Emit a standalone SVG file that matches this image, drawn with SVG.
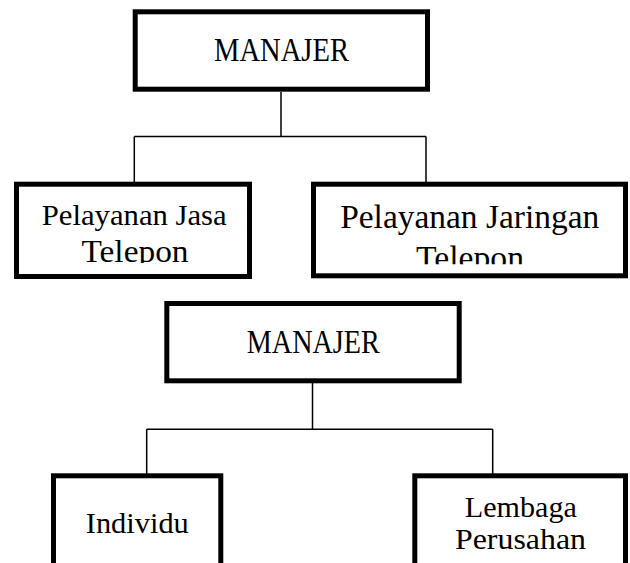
<svg xmlns="http://www.w3.org/2000/svg" width="630" height="563" viewBox="0 0 630 563">
  <style>
    .box { fill: #ffffff; stroke: #000000; stroke-width: 5; }
    .lbl { font-family: "Liberation Serif", "Times New Roman", serif; fill: #000000; text-anchor: middle; }
    .conn { fill: none; stroke: #000000; stroke-width: 1.5; }
  </style>
  <defs>
    <clipPath id="clipJasa"><rect x="19" y="186" width="228" height="77"/></clipPath>
    <clipPath id="clipJaringan"><rect x="316" y="186" width="306" height="78.3"/></clipPath>
  </defs>
  <rect x="0" y="0" width="630" height="563" fill="#ffffff"/>

  <g id="connectors">
    <path class="conn" d="M281,92 V136.5 M134.3,136.5 H426 M134.3,136.5 V182 M426,136.5 V182"/>
    <path class="conn" d="M312.5,383 V429.3 M146.7,429.3 H492.7 M146.7,429.3 V474 M492.7,429.3 V474"/>
  </g>

  <g id="manajer1">
    <rect class="box" x="135.2" y="11.8" width="292.3" height="77.4"/>
    <text class="lbl" x="281.5" y="61" font-size="33" textLength="135" lengthAdjust="spacingAndGlyphs">MANAJER</text>
  </g>

  <g id="jasa">
    <rect class="box" x="16.5" y="184.2" width="233" height="92.3"/>
    <g clip-path="url(#clipJasa)">
      <text class="lbl" x="134.2" y="225" font-size="30" textLength="185" lengthAdjust="spacingAndGlyphs">Pelayanan Jasa</text>
      <text class="lbl" x="135" y="261.5" font-size="31" textLength="107" lengthAdjust="spacingAndGlyphs">Telepon</text>
    </g>
  </g>

  <g id="jaringan">
    <rect class="box" x="313.5" y="184.2" width="312" height="91.6"/>
    <g clip-path="url(#clipJaringan)">
      <text class="lbl" x="469.7" y="228.3" font-size="34" textLength="259" lengthAdjust="spacingAndGlyphs">Pelayanan Jaringan</text>
      <text class="lbl" x="470" y="269" font-size="34" textLength="108" lengthAdjust="spacingAndGlyphs">Telepon</text>
    </g>
  </g>

  <g id="manajer2">
    <rect class="box" x="166.8" y="303.5" width="292.4" height="77.3"/>
    <text class="lbl" x="313.3" y="353.3" font-size="33" textLength="133" lengthAdjust="spacingAndGlyphs">MANAJER</text>
  </g>

  <g id="individu">
    <rect class="box" x="53.5" y="475.8" width="167.3" height="120"/>
    <text class="lbl" x="137.3" y="533.3" font-size="30" textLength="103" lengthAdjust="spacingAndGlyphs">Individu</text>
  </g>

  <g id="lembaga">
    <rect class="box" x="414.8" y="475.8" width="210.7" height="120"/>
    <text class="lbl" x="520.8" y="516.7" font-size="30" textLength="112" lengthAdjust="spacingAndGlyphs">Lembaga</text>
    <text class="lbl" x="520.5" y="549" font-size="30" textLength="131" lengthAdjust="spacingAndGlyphs">Perusahan</text>
  </g>
</svg>
